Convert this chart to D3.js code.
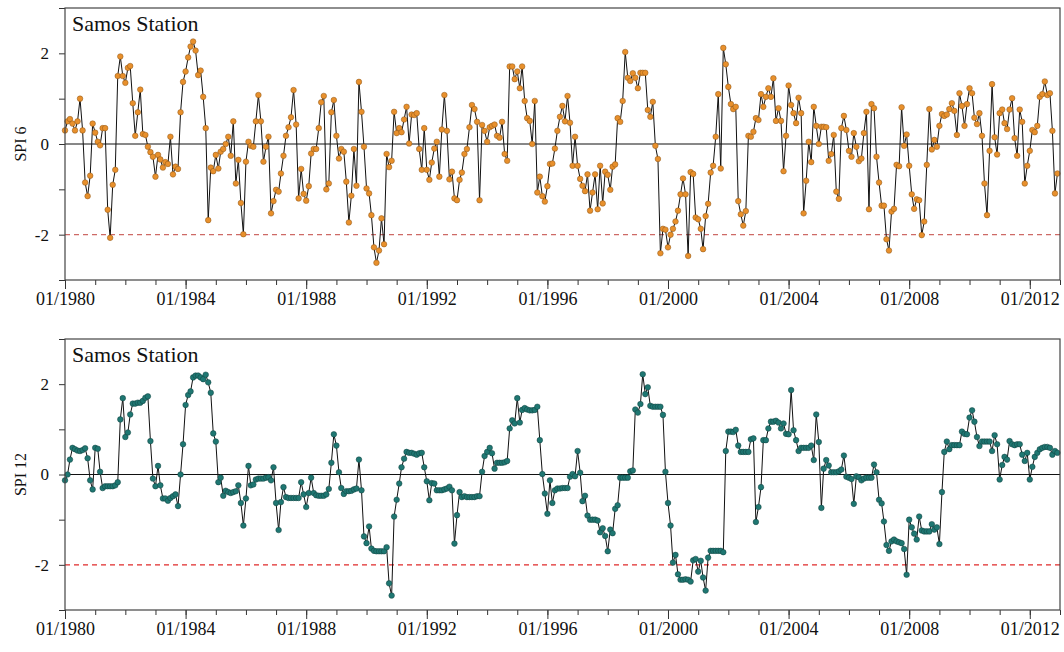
<!DOCTYPE html>
<html>
<head>
<meta charset="utf-8">
<script src="https://cdn.jsdelivr.net/npm/d3@7"></script>
<style>
body { margin: 0; background: #fff; }
text { font-family: "Liberation Serif", "Times New Roman", serif; fill: #111; }
</style>
</head>
<body>
<div id="chart"></div>
<script>
var station = "Samos Station";
var startYear = 1980;
var endYear = 2013;

// monthly values, 01/1980 .. 12/2012
var spi6 = [
  0.3, 0.5, 0.55, 0.45, 0.3, 0.5, 1.0, 0.3, -0.85, -1.15,
  -0.7, 0.45, 0.25, 0.05, -0.03, 0.35, 0.35, -1.45, -2.07, -0.9,
  -0.57, 1.5, 1.93, 1.5, 1.35, 1.68, 1.72, 0.9, 0.18, 0.7,
  1.2, 0.22, 0.2, -0.06, -0.18, -0.28, -0.72, -0.24, -0.34, -0.52,
  -0.4, -0.44, 0.16, -0.67, -0.5, -0.55, 0.7, 1.37, 1.6, 1.91,
  2.15, 2.26, 2.06, 1.52, 1.62, 1.04, 0.35, -1.68, -0.52, -0.6,
  -0.24, -0.54, -0.17, -0.11, 0.0, 0.16, -0.26,
  0.5, -0.87, -0.35, -1.3, -1.99, -0.39, 0.05, -0.04, -0.06, 0.5,
  1.08, 0.5, -0.39, -0.06, 0.16, -1.53, -1.26, -1.01, -1.05, -0.65,
  -0.26, 0.18, 0.37, 0.59, 1.19, 0.43, -1.2, -0.55, -1.1, -1.25,
  -0.93, -0.21, -0.11, -0.11, 0.35, 0.92, 1.06, -1.0, -0.87, 0.7,
  0.97, 0.18, -0.32, -0.11, -0.17, -0.83, -1.73, -1.14, -0.11, -0.92,
  1.37, 0.71, -0.06, -0.98, -1.09, -1.57, -2.28, -2.62, -2.35, -1.64,
  -2.21, -0.22, -0.51, -0.37, 0.71,
  0.24, 0.35, 0.26, 0.54, 0.82, 0.01, 0.65, 0.64, 0.68, -0.11,
  -0.57, 0.35, -0.57, -0.79, -0.41, -0.1, 0.05, -0.72, 0.32, 1.08,
  0.29, -0.78, -0.61, -1.2, -1.24, -0.79, -0.63, -0.22, -0.11, 0.37,
  0.86, 0.77, 0.49, -1.24, 0.42, 0.29, 0.05, 0.37, 0.4, 0.43,
  0.18, 0.14, 0.49, -0.22, -0.37, 1.71, 1.71, 1.43, 1.6, 1.23,
  1.71, 0.95, 0.57, 0.51, 0.0, 0.95, -1.07, -0.72, -1.15, -1.27,
  -0.93, -0.44, -0.43, -0.1, 0.29, 0.6, 0.84,
  0.5, 1.06, 0.47, -0.48, 0.16, -0.48, -0.77, -0.92, -1.04, -0.67,
  -1.47, -1.07, -0.67, -1.44, -0.48, -1.31, -0.61, -0.68, -1.01, -0.5,
  -0.45, 0.57, 0.49, 0.95, 2.03, 1.46, 1.39, 1.56, 1.46, 1.23,
  1.57, 1.57, 1.57, 0.75, 0.6, 0.93, -0.04, -0.33, -2.41, -1.87,
  -1.89, -2.28, -2.0, -1.87, -1.71, -1.47, -1.11, -0.76, -1.11, -2.47,
  -0.62, -0.66, -1.62, -1.66, -1.87, -2.32, -1.59, -1.32, -0.63, -0.48,
  0.16, 1.1, -0.54, 2.12, 1.76,
  1.26, 0.88, 0.77, 0.82, -1.26, -1.55, -1.8, -1.48, 0.18, 0.16,
  0.27, 0.57, 0.53, 1.1, 0.82, 1.04, 1.23, 1.04, 1.45, 0.51,
  0.79, 0.51, -0.6, 0.18, 1.29, 0.86, 0.68, 0.46, 1.02, 0.68,
  -1.53, -0.81, 0.05, -0.4, 0.82, 0.4, 0.0, 0.38, 0.38, 0.37,
  -0.37, -0.22, 0.2, -1.05, -1.21, 0.35, 0.62, 0.31, -0.15, -0.28,
  0.24, -0.06, -0.38, -0.32, 0.24, 0.71, -1.44, 0.88, 0.79, -0.28,
  -0.85, -1.36, -1.36, -2.1, -2.35, -1.49,
  -1.43, -0.46, -0.49, 0.81, -0.04, 0.21, -0.48, -1.11, -1.43, -1.22,
  -1.24, -2.01, -1.71, -0.46, 0.77, -0.12, 0.09, -0.06, 0.4, 0.66,
  0.62, 0.65, 0.77, 0.9, 0.73, 0.2, 1.12, 0.84, 0.4, 0.88,
  1.23, 1.12, 0.58, 0.44, 0.68, 0.18, -0.87, -1.57, -0.15, 1.32,
  0.15, -0.23, 0.68, 0.76, 0.46, 0.33, 0.76, 1.01, 0.13, -0.26,
  0.76, 0.49, -0.87, -0.48, -0.15, 0.31, 0.26, 0.4, 1.04, 1.1,
  1.38, 1.08, 1.12, 0.29, -1.09, -0.65
];

var spi12 = [
  -0.13, 0.0, 0.33, 0.59, 0.56, 0.53, 0.52, 0.54, 0.58, 0.36,
  -0.13, -0.33, 0.59, 0.57, 0.06, -0.3, -0.26, -0.26, -0.26, -0.26,
  -0.24, -0.17, 1.22, 1.69, 0.83, 0.93, 1.33, 1.57, 1.57, 1.59,
  1.59, 1.63, 1.7, 1.73, 0.74, -0.09, -0.26, 0.19, -0.24, -0.53,
  -0.53, -0.58, -0.52, -0.48, -0.44, -0.7, 0.0, 0.67, 1.54, 1.76,
  1.84, 2.15, 2.19, 2.19, 2.15, 2.11, 2.21, 2.04, 1.81, 0.91,
  0.73, -0.17, -0.07, -0.47, -0.36, -0.39, -0.41,
  -0.39, -0.37, -0.24, -0.63, -1.13, -0.53, 0.19, -0.24, -0.22, -0.11,
  -0.09, -0.09, -0.09, -0.07, -0.06, -0.13, 0.16, -0.63, -1.23, -0.61,
  -0.28, -0.5, -0.52, -0.52, -0.52, -0.52, -0.52, -0.17, -0.44, -0.72,
  -0.41, -0.07, -0.41, -0.46, -0.47, -0.47, -0.47, -0.44, -0.32, 0.26,
  0.89, 0.64, 0.05, -0.3, -0.43, -0.37, -0.37, -0.36, -0.33, -0.31,
  0.33, -0.35, -1.37, -1.52, -1.15, -1.64, -1.69, -1.7, -1.7, -1.7,
  -1.7, -1.61, -2.41,
  -2.68, -0.93, -0.56, -0.2, 0.16, 0.35, 0.5, 0.48, 0.48, 0.46,
  0.44, 0.47, 0.48, 0.16, -0.15, -0.57, -0.19, -0.2, -0.35, -0.35,
  -0.35, -0.33, -0.31, -0.27, -0.35, -1.53, -0.9, -0.39, -0.5, -0.48,
  -0.5, -0.5, -0.5, -0.5, -0.48, -0.48, 0.06, 0.41, 0.5, 0.59,
  0.47, 0.13, 0.26, 0.26, 0.26, 0.27, 0.3, 1.02, 1.2, 1.13,
  1.69, 1.15, 1.43, 1.47, 1.44, 1.42, 1.42, 1.43, 1.5, 0.76,
  0.01, -0.42, -0.87, -0.13, -0.63, -0.35, -0.31, -0.31, -0.3,
  -0.3, -0.3, -0.05, 0.01, -0.04, 0.52, 0.04, -0.59, -0.47, -0.91,
  -1.0, -1.0, -1.0, -1.02, -1.28, -1.19, -1.36, -1.7, -1.22, -1.3,
  -0.76, -0.68, -0.07, -0.07, -0.07, -0.07, 0.07, 0.09, 1.44, 1.37,
  1.56, 2.22, 1.78, 1.93, 1.52, 1.5, 1.5, 1.5, 1.5, 1.32,
  0.06, -0.63, -1.13, -1.95, -1.78, -2.21, -2.33, -2.33, -2.32, -2.33,
  -2.37, -1.9, -1.87, -2.15, -1.91, -2.28, -2.57, -1.84, -1.69, -1.69,
  -1.69, -1.69, -1.69, -1.72, 0.52, 0.95,
  0.95, 0.94, 0.99, 0.64, 0.5, 0.5, 0.5, 0.5, 0.78, 0.8,
  -1.05, -0.72, -0.28, 0.76, 0.76, 1.02, 1.17, 1.17, 1.19, 1.15,
  1.02, 1.13, 0.9, 0.89, 1.87, 0.98, 0.76, 0.52, 0.59, 0.59,
  0.59, 0.59, 0.64, 0.32, 1.33, 0.72, -0.74, 0.13, 0.32, 0.2,
  0.05, 0.05, 0.05, 0.07, 0.11, 0.42, -0.05, -0.07, -0.1, -0.65,
  -0.04, -0.06, -0.13, -0.09, -0.07, -0.07, -0.07, 0.22, 0.05, -0.56,
  -0.64, -1.04, -1.56, -1.69, -1.48, -1.44,
  -1.48, -1.5, -1.52, -1.65, -2.22, -1.0, -1.17, -1.31, -1.44, -0.93,
  -1.24, -1.26, -1.26, -1.26, -1.1, -1.22, -1.17, -1.54, -0.39, 0.5,
  0.73, 0.56, 0.65, 0.65, 0.65, 0.65, 0.95, 0.9, 0.89, 1.26,
  1.42, 1.17, 0.83, 0.63, 0.73, 0.73, 0.73, 0.73, 0.52, 0.87,
  0.67, -0.11, 0.21, 0.39, 0.33, 0.74, 0.67, 0.65, 0.67, 0.67,
  0.44, 0.3, 0.48, -0.11, 0.17, 0.39, 0.48, 0.56, 0.59, 0.61,
  0.61, 0.59, 0.44, 0.52, 0.48
];

var yTicks = [-3, -2, -1, 0, 1, 2, 3];
var yTickLabels = [-2, 0, 2];
var labelYears = [1980, 1984, 1988, 1992, 1996, 2000, 2004, 2008, 2012];
var droughtLevel = -2;

var svgWidth = 1064;
var svgHeight = 652;
var left = 65, right = 1060;

var panels = [
  {label: "SPI 6", values: spi6, top: 8, bottom: 280, fill: "#e8902c", stroke: "#8a5418", dash: "#cd6a66"},
  {label: "SPI 12", values: spi12, top: 339, bottom: 610, fill: "#1f7772", stroke: "#10413e", dash: "#e02a2a"}
];

var svg = d3.select("#chart")
            .append("svg")
            .attr("width", svgWidth)
            .attr("height", svgHeight);

var x = d3.scaleTime()
          .domain([new Date(startYear, 0, 1), new Date(endYear, 0, 1)])
          .range([left, right]);

var allYears = d3.range(startYear, endYear + 1).map(y => new Date(y, 0, 1));
var labelDates = labelYears.map(y => new Date(y, 0, 1));
var fmt = d3.timeFormat("%m/%Y");

panels.forEach(function(p) {
    var g = svg.append("g");
    var y = d3.scaleLinear().domain([-3, 3]).range([p.bottom, p.top]);
    var pts = p.values.map((v, i) => ({date: new Date(startYear, i, 1), value: v}));

    // minor yearly ticks
    g.append("g")
     .attr("transform", `translate(0, ${p.bottom})`)
     .call(d3.axisBottom(x).tickValues(allYears).tickSize(5).tickFormat(""))
     .call(a => a.select(".domain").remove());

    g.append("g")
     .attr("transform", `translate(0, ${p.bottom})`)
     .call(d3.axisBottom(x).tickValues(labelDates).tickSize(9).tickPadding(3).tickFormat(fmt))
     .call(a => a.select(".domain").remove())
     .selectAll("text").style("font-size", "18px");

    g.append("g")
     .attr("transform", `translate(${left}, 0)`)
     .call(d3.axisLeft(y).tickValues(yTicks).tickSize(6).tickPadding(10)
           .tickFormat(d => yTickLabels.indexOf(d) >= 0 ? String(d) : ""))
     .call(a => a.select(".domain").remove())
     .selectAll("text").style("font-size", "17px");

    g.selectAll(".tick line").attr("stroke", "#333");

    g.append("line")
     .attr("x1", left).attr("x2", right)
     .attr("y1", y(droughtLevel)).attr("y2", y(droughtLevel))
     .attr("stroke", p.dash).attr("stroke-width", 1.2)
     .attr("stroke-dasharray", "5,4");

    g.append("line")
     .attr("x1", left).attr("x2", right)
     .attr("y1", y(0)).attr("y2", y(0))
     .attr("stroke", "#111").attr("stroke-width", 1);

    var line = d3.line().x(d => x(d.date)).y(d => y(d.value));
    g.append("path")
     .datum(pts)
     .attr("d", line)
     .attr("fill", "none")
     .attr("stroke", "#111")
     .attr("stroke-width", 1);

    g.selectAll("circle")
     .data(pts)
     .enter()
     .append("circle")
     .attr("cx", d => x(d.date))
     .attr("cy", d => y(d.value))
     .attr("r", 2.8)
     .attr("fill", p.fill)
     .attr("stroke", p.stroke)
     .attr("stroke-width", 0.5);

    g.append("rect")
     .attr("x", left).attr("y", p.top)
     .attr("width", right - left).attr("height", p.bottom - p.top)
     .attr("fill", "none").attr("stroke", "#444").attr("stroke-width", 1.2);

    g.append("text")
     .attr("x", left + 7).attr("y", p.top + 23)
     .style("font-size", "22px")
     .text(station);

    g.append("text")
     .attr("transform", `translate(26, ${y(0)}) rotate(-90)`)
     .attr("text-anchor", "middle")
     .style("font-size", "16px")
     .text(p.label);
});
</script>
</body>
</html>
